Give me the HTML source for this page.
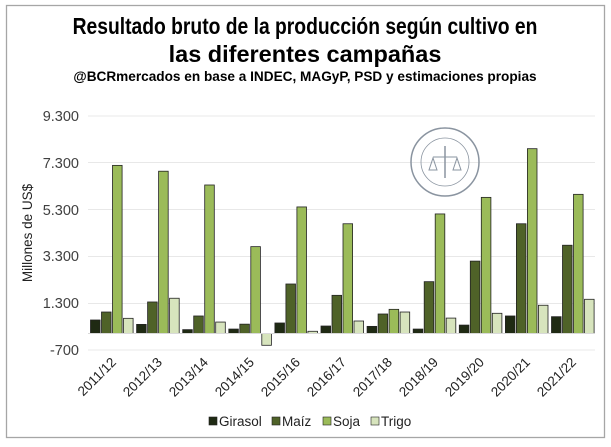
<!DOCTYPE html>
<html><head><meta charset="utf-8"><style>
html,body{margin:0;padding:0;background:#fff;}
svg{display:block;font-family:"Liberation Sans",sans-serif;}
</style></head><body>
<svg id="c" width="611" height="447" viewBox="0 0 611 447" xmlns="http://www.w3.org/2000/svg">
<rect x="0" y="0" width="611" height="447" fill="#fff"/>
<rect x="6.5" y="5.5" width="598" height="432" fill="none" stroke="#a6a6a6" stroke-width="1.3"/>
<g transform="translate(305,0) scale(0.8,1)" font-weight="bold" text-anchor="middle">
<text x="0" y="34" font-size="23" textLength="581" lengthAdjust="spacingAndGlyphs">Resultado bruto de la producción según cultivo en</text>
<text x="0" y="62" font-size="23" textLength="341" lengthAdjust="spacingAndGlyphs">las diferentes campañas</text>
<text x="0" y="81" font-size="14" textLength="579" lengthAdjust="spacingAndGlyphs">@BCRmercados en base a INDEC, MAGyP, PSD y estimaciones propias</text>
</g>
<g stroke="#e8e8e8" stroke-width="1">
<line x1="88" x2="595" y1="116" y2="116"/><line x1="88" x2="595" y1="162.5" y2="162.5"/>
<line x1="88" x2="595" y1="209.5" y2="209.5"/><line x1="88" x2="595" y1="256.5" y2="256.5"/>
<line x1="88" x2="595" y1="303.5" y2="303.5"/><line x1="88" x2="595" y1="350" y2="350"/>
</g>
<g font-size="14.5" fill="#404040" text-anchor="end">
<text x="79" y="121">9.300</text><text x="79" y="168">7.300</text><text x="79" y="215">5.300</text>
<text x="79" y="261">3.300</text><text x="79" y="308">1.300</text><text x="79" y="355">-700</text>
</g>
<text transform="translate(32,233) rotate(-90)" text-anchor="middle" font-size="13.5" fill="#222">Millones de US$</text>
<g transform="translate(445,162)" fill="none" stroke="#8a94a0">
<circle r="34" stroke-width="1.5"/><circle r="24" stroke-width="0.8"/>
<line x1="-12" y1="-5" x2="12" y2="-5"/><line x1="0" y1="-16" x2="0" y2="16" stroke-width="1.5"/>
<path d="M-16 8 l4 -12 l4 12 z M8 8 l4 -12 l4 12 z"/>
</g>
<g id="bars" stroke="#222" stroke-width="0.8"></g>
<line x1="88" x2="595" y1="333.5" y2="333.5" stroke="#d9d9d9"/>
<g font-size="13.5" fill="#222" text-anchor="end">
<text transform="translate(117,363) rotate(-45)">2011/12</text>
<text transform="translate(163,363) rotate(-45)">2012/13</text>
<text transform="translate(209,363) rotate(-45)">2013/14</text>
<text transform="translate(255,363) rotate(-45)">2014/15</text>
<text transform="translate(301,363) rotate(-45)">2015/16</text>
<text transform="translate(347,363) rotate(-45)">2016/17</text>
<text transform="translate(393,363) rotate(-45)">2017/18</text>
<text transform="translate(439,363) rotate(-45)">2018/19</text>
<text transform="translate(485,363) rotate(-45)">2019/20</text>
<text transform="translate(531,363) rotate(-45)">2020/21</text>
<text transform="translate(577,363) rotate(-45)">2021/22</text>
</g>
<g font-size="13.5" fill="#222">
<rect x="209" y="417" width="8" height="8" fill="#1f2a13" stroke="#222" stroke-width="0.6"/><text x="219" y="426">Girasol</text>
<rect x="272" y="417" width="8" height="8" fill="#4f6228" stroke="#222" stroke-width="0.6"/><text x="282" y="426">Maíz</text>
<rect x="323" y="417" width="8" height="8" fill="#9bbb59" stroke="#222" stroke-width="0.6"/><text x="333" y="426">Soja</text>
<rect x="371" y="417" width="8" height="8" fill="#d7e4bd" stroke="#222" stroke-width="0.6"/><text x="381" y="426">Trigo</text>
</g>
</svg>
<script>
var d=[[578,920,7200,650],[390,1350,6950,1510],[165,750,6360,490],[190,400,3720,-505],[450,2120,5420,95],[320,1635,4700,535],[305,835,1035,920],[190,2220,5120,660],[360,3100,5830,865],[750,4700,7915,1210],[720,3780,5960,1465]];
var col=["#1f2a13","#4f6228","#9bbb59","#d7e4bd"];
var g=document.getElementById("bars"),ns="http://www.w3.org/2000/svg";
for(var i=0;i<11;i++)for(var j=0;j<4;j++){var v=d[i][j],x=88+46.1*i+2.5+j*11,y0=333.5,y1=333.5-v*0.02335;
var r=document.createElementNS(ns,"rect");r.setAttribute("x",x);r.setAttribute("width",9.6);
r.setAttribute("y",Math.min(y0,y1));r.setAttribute("height",Math.abs(y1-y0));r.setAttribute("fill",col[j]);g.appendChild(r);}
</script>
</body></html>
